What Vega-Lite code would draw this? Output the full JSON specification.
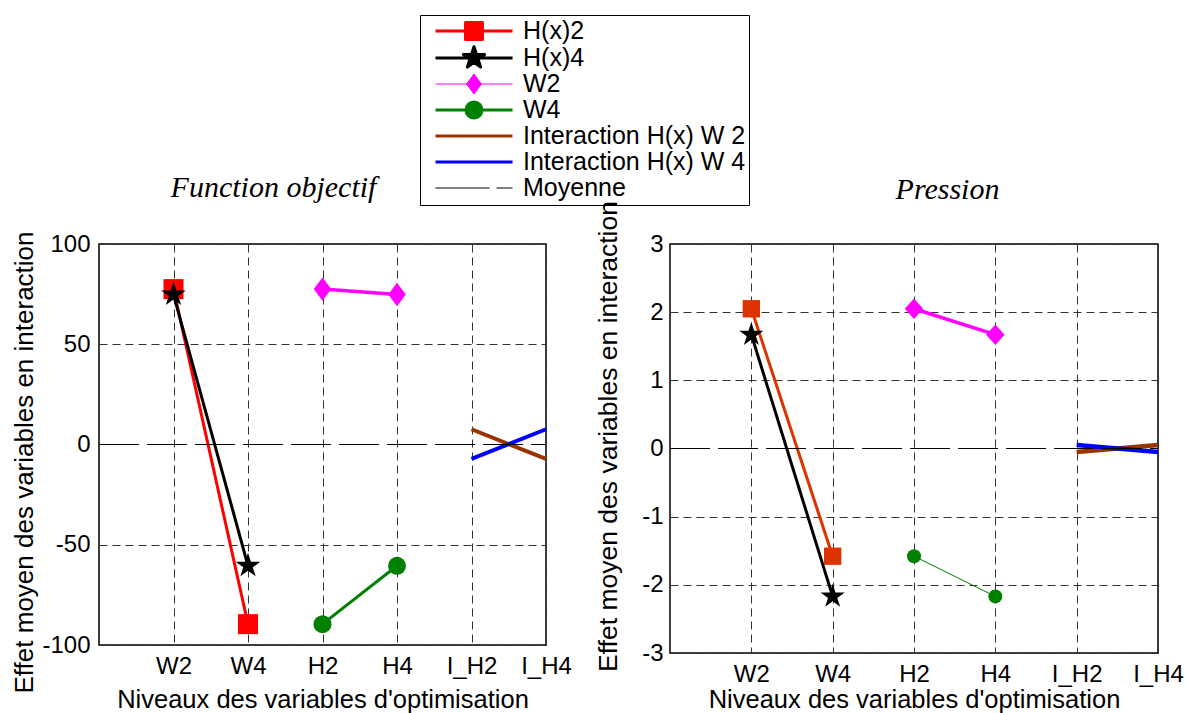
{
  "$schema": "https://vega.github.io/schema/vega-lite/v6.json",
  "padding": {"left": 10, "top": 13, "right": 0, "bottom": 0},
  "background": "white",
  "bounds": "flush",
  "spacing": 124,
  "config": {
    "font": "Liberation Sans",
    "view": {"stroke": "black", "strokeWidth": 1.5},
    "axis": {
      "labelColor": "black", "titleColor": "black",
      "labelFontSize": 24, "titleFontSize": 25.5, "titleFontWeight": "normal",
      "labelFont": "Liberation Sans", "titleFont": "Liberation Sans",
      "domain": false, "ticks": false, "labelOverlap": false, "labelFlush": false,
      "gridColor": "#333333", "gridDash": [8, 5], "gridWidth": 1
    }
  },
  "datasets": {
    "fobj": [
      {"series": "H(x)2", "x": 1, "y": 77.5},
      {"series": "H(x)2", "x": 2, "y": -89.6},
      {"series": "H(x)4", "x": 1, "y": 74.8},
      {"series": "H(x)4", "x": 2, "y": -60.5},
      {"series": "W2", "x": 3, "y": 77.5},
      {"series": "W2", "x": 4, "y": 74.8},
      {"series": "W4", "x": 3, "y": -89.6},
      {"series": "W4", "x": 4, "y": -60.5},
      {"series": "Interaction H(x) W 2", "x": 5, "y": 7.6},
      {"series": "Interaction H(x) W 2", "x": 6, "y": -7.2},
      {"series": "Interaction H(x) W 4", "x": 5, "y": -7.2},
      {"series": "Interaction H(x) W 4", "x": 6, "y": 7.6},
      {"series": "Moyenne", "x": 0, "y": 0},
      {"series": "Moyenne", "x": 6, "y": 0}
    ],
    "pres": [
      {"series": "H(x)2", "x": 1, "y": 2.05},
      {"series": "H(x)2", "x": 2, "y": -1.58},
      {"series": "H(x)4", "x": 1, "y": 1.67},
      {"series": "H(x)4", "x": 2, "y": -2.17},
      {"series": "W2", "x": 3, "y": 2.05},
      {"series": "W2", "x": 4, "y": 1.67},
      {"series": "W4", "x": 3, "y": -1.58},
      {"series": "W4", "x": 4, "y": -2.17},
      {"series": "Interaction H(x) W 2", "x": 5, "y": -0.05},
      {"series": "Interaction H(x) W 2", "x": 6, "y": 0.05},
      {"series": "Interaction H(x) W 4", "x": 5, "y": 0.05},
      {"series": "Interaction H(x) W 4", "x": 6, "y": -0.05},
      {"series": "Moyenne", "x": 0, "y": 0},
      {"series": "Moyenne", "x": 6, "y": 0}
    ]
  },
  "hconcat": [
    {
      "width": 447,
      "height": 401,
      "data": {"name": "fobj"},
      "layer": [
        {
          "transform": [{"filter": "datum.series !== 'Moyenne'"}],
          "mark": {"type": "line"},
          "encoding": {
            "x": {
              "field": "x", "type": "quantitative",
              "scale": {"domain": [0, 6], "nice": false, "zero": false},
              "axis": {
                "values": [1, 2, 3, 4, 5, 6],
                "labelExpr": "['','W2','W4','H2','H4','I_H2','I_H4'][datum.value]",
                "labelPadding": 9, "grid": true,
                "title": "Niveaux des variables d'optimisation",
                "titleY": 62, "titleBaseline": "alphabetic"
              }
            },
            "y": {
              "field": "y", "type": "quantitative",
              "scale": {"domain": [-100, 100], "nice": false},
              "axis": {
                "values": [-100, -50, 0, 50, 100],
                "labelExpr": "'' + datum.value",
                "labelPadding": 9, "grid": true,
                "gridOpacity": {"condition": {"test": "datum.value === 0", "value": 0}, "value": 1},
                "title": "Effet moyen des variables en interaction",
                "titleFontSize": 26,
                "titleX": -67, "titleY": 218, "titleBaseline": "alphabetic",
                "titleAngle": 270, "titleAlign": "center"
              }
            },
            "color": {
              "field": "series", "type": "nominal",
              "scale": {
                "domain": ["H(x)2", "H(x)4", "W2", "W4", "Interaction H(x) W 2", "Interaction H(x) W 4", "Moyenne"],
                "range": ["#ff0000", "#000000", "#ff00ff", "#008000", "#993300", "#0000ff", "#000000"]
              },
              "legend": {
                "orient": "none", "legendX": 321, "legendY": -229, "title": null,
                "strokeColor": "black", "fillColor": "white", "padding": 3.5,
                "labelFontSize": 25, "labelFont": "Liberation Sans", "labelColor": "black",
                "labelOffset": 74.5, "labelLimit": 400,
                "symbolSize": 256, "rowPadding": 0,
                "encode": {
                  "symbols": {
                    "update": {
                      "shape": {"signal": "datum.value === 'H(x)2' ? 'M-0.0625,0H9.5675M3.69,-1.06H5.81V1.06H3.69Z' : datum.value === 'H(x)4' ? 'M-0.0625,0H9.5675M4.75,-1.4L5.065,-0.433L6.082,-0.433L5.259,0.165L5.573,1.133L4.75,0.535L3.927,1.133L4.241,0.165L3.418,-0.433L4.435,-0.433Z' : datum.value === 'W2' ? 'M-0.0625,0H9.5675M4.75,-1.25L5.675,0L4.75,1.25L3.825,0Z' : datum.value === 'W4' ? 'M-0.0625,0H9.5675M3.75,0A1,1 0 1,0 5.75,0A1,1 0 1,0 3.75,0Z' : datum.value === 'Moyenne' ? 'M-0.0625,0H6.69M7.57,0H9.5675' : 'M-0.0625,0H9.5675'"},
                      "fill": {"signal": "datum.value === 'H(x)2' ? '#ff0000' : datum.value === 'H(x)4' ? '#000000' : datum.value === 'W2' ? '#ff00ff' : datum.value === 'W4' ? '#008000' : 'transparent'"},
                      "stroke": {"signal": "datum.value === 'H(x)2' ? '#ff0000' : datum.value === 'W2' ? '#ff00ff' : datum.value === 'W4' ? '#008000' : datum.value === 'Interaction H(x) W 2' ? '#993300' : datum.value === 'Interaction H(x) W 4' ? '#0000ff' : '#000000'"},
                      "strokeWidth": {"signal": "datum.value === 'W2' || datum.value === 'Moyenne' ? 1 : 3"},
                      "strokeJoin": {"value": "round"},
                      "size": {"value": 256},
                      "opacity": {"value": 1}
                    }
                  }
                }
              }
            },
            "strokeWidth": {
              "field": "series", "type": "ordinal",
              "scale": {
                "type": "ordinal",
                "domain": ["H(x)2", "H(x)4", "W2", "W4", "Interaction H(x) W 2", "Interaction H(x) W 4"],
                "range": [3, 3, 3.5, 3, 4, 4]
              },
              "legend": null
            }
          }
        },
        {
          "transform": [{"filter": "datum.series === 'H(x)2' || datum.series === 'H(x)4' || datum.series === 'W2' || datum.series === 'W4'"}],
          "mark": {"type": "point", "filled": true, "opacity": 1, "strokeWidth": 0},
          "encoding": {
            "x": {"field": "x", "type": "quantitative", "axis": null},
            "y": {"field": "y", "type": "quantitative"},
            "color": {"field": "series", "type": "nominal"},
            "shape": {
              "field": "series", "type": "nominal",
              "scale": {
                "domain": ["H(x)2", "H(x)4", "W2", "W4"],
                "range": ["M-1,-1H1V1H-1Z", "M0,-1L0.225,-0.309L0.951,-0.309L0.363,0.118L0.588,0.809L0,0.382L-0.588,0.809L-0.363,0.118L-0.951,-0.309L-0.225,-0.309Z", "M0,-1L0.75,0L0,1L-0.75,0Z", "circle"]
              },
              "legend": null
            },
            "size": {
              "field": "series", "type": "ordinal",
              "scale": {"type": "ordinal", "domain": ["H(x)2", "H(x)4", "W2", "W4"], "range": [400, 676, 545, 324]},
              "legend": null
            }
          }
        },
        {
          "transform": [{"filter": "datum.series === 'Moyenne'"}],
          "mark": {"type": "line", "color": "black", "strokeWidth": 1, "strokeDash": [40, 8]},
          "encoding": {
            "x": {
              "field": "x", "type": "quantitative",
              "axis": {
                "orient": "top", "title": "Function objectif", "labels": false, "ticks": false,
                "domain": false, "grid": false,
                "titleFont": "Liberation Serif", "titleFontStyle": "italic", "titleFontSize": 30,
                "titleFontWeight": "normal", "titleX": 174, "titleY": -48,
                "titleBaseline": "alphabetic", "titleAlign": "center", "titleAngle": 0
              }
            },
            "y": {"field": "y", "type": "quantitative"}
          }
        }
      ],
      "resolve": {"axis": {"x": "independent"}}
    },
    {
      "width": 488,
      "height": 409,
      "data": {"name": "pres"},
      "layer": [
        {
          "transform": [{"filter": "datum.series !== 'Moyenne'"}],
          "mark": {"type": "line"},
          "encoding": {
            "x": {
              "field": "x", "type": "quantitative",
              "scale": {"domain": [0, 6], "nice": false, "zero": false},
              "axis": {
                "values": [1, 2, 3, 4, 5, 6],
                "labelExpr": "['','W2','W4','H2','H4','I_H2','I_H4'][datum.value]",
                "labelPadding": 9, "grid": true,
                "title": "Niveaux des variables d'optimisation",
                "titleY": 54, "titleBaseline": "alphabetic"
              }
            },
            "y": {
              "field": "y", "type": "quantitative",
              "scale": {"domain": [-3, 3], "nice": false},
              "axis": {
                "values": [-3, -2, -1, 0, 1, 2, 3],
                "labelExpr": "'' + datum.value",
                "labelPadding": 7, "grid": true,
                "gridOpacity": {"condition": {"test": "datum.value === 0", "value": 0}, "value": 1},
                "title": "Effet moyen des variables en interaction",
                "titleFontSize": 26.5,
                "titleX": -54, "titleY": 192, "titleBaseline": "alphabetic",
                "titleAngle": 270, "titleAlign": "center"
              }
            },
            "color": {
              "field": "series", "type": "nominal",
              "scale": {
                "domain": ["H(x)2", "H(x)4", "W2", "W4", "Interaction H(x) W 2", "Interaction H(x) W 4", "Moyenne"],
                "range": ["#dd3300", "#000000", "#ff00ff", "#008000", "#993300", "#0000ff", "#000000"]
              },
              "legend": null
            },
            "strokeWidth": {
              "field": "series", "type": "ordinal",
              "scale": {
                "type": "ordinal",
                "domain": ["H(x)2", "H(x)4", "W2", "W4", "Interaction H(x) W 2", "Interaction H(x) W 4"],
                "range": [3, 3, 3.5, 1, 4.5, 4.5]
              },
              "legend": null
            }
          }
        },
        {
          "transform": [{"filter": "datum.series === 'H(x)2' || datum.series === 'H(x)4' || datum.series === 'W2' || datum.series === 'W4'"}],
          "mark": {"type": "point", "filled": true, "opacity": 1, "strokeWidth": 0},
          "encoding": {
            "x": {"field": "x", "type": "quantitative", "axis": null},
            "y": {"field": "y", "type": "quantitative"},
            "color": {"field": "series", "type": "nominal", "legend": null},
            "shape": {
              "field": "series", "type": "nominal",
              "scale": {
                "domain": ["H(x)2", "H(x)4", "W2", "W4"],
                "range": ["M-1,-1H1V1H-1Z", "M0,-1L0.225,-0.309L0.951,-0.309L0.363,0.118L0.588,0.809L0,0.382L-0.588,0.809L-0.363,0.118L-0.951,-0.309L-0.225,-0.309Z", "M0,-1L0.9,0L0,1L-0.9,0Z", "circle"]
              },
              "legend": null
            },
            "size": {
              "field": "series", "type": "ordinal",
              "scale": {"type": "ordinal", "domain": ["H(x)2", "H(x)4", "W2", "W4"], "range": [300, 650, 420, 196]},
              "legend": null
            }
          }
        },
        {
          "transform": [{"filter": "datum.series === 'Moyenne'"}],
          "mark": {"type": "line", "color": "black", "strokeWidth": 1, "strokeDash": [40, 8]},
          "encoding": {
            "x": {
              "field": "x", "type": "quantitative",
              "axis": {
                "orient": "top", "title": "Pression", "labels": false, "ticks": false,
                "domain": false, "grid": false,
                "titleFont": "Liberation Serif", "titleFontStyle": "italic", "titleFontSize": 30,
                "titleFontWeight": "normal", "titleX": 277, "titleY": -46,
                "titleBaseline": "alphabetic", "titleAlign": "center", "titleAngle": 0
              }
            },
            "y": {"field": "y", "type": "quantitative"}
          }
        }
      ],
      "resolve": {"axis": {"x": "independent"}}
    }
  ],
  "resolve": {"scale": {"color": "independent", "shape": "independent", "size": "independent", "strokeWidth": "independent"}}
}
